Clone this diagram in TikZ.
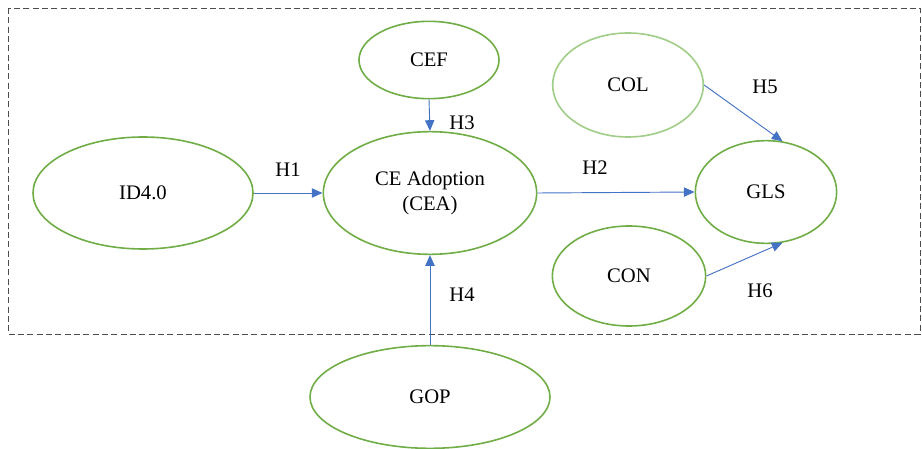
\documentclass[tikz,border=0pt]{standalone}
\usepackage{fontspec}
\setmainfont{Liberation Serif}
\usetikzlibrary{shapes.geometric, arrows.meta, positioning}
\definecolor{ovalgreen}{RGB}{112,173,71}
\definecolor{palegreen}{RGB}{160,205,135}
\definecolor{linkblue}{RGB}{68,114,196}
\tikzset{
  construct/.style={
    ellipse, draw=ovalgreen, line width=1.2pt, inner sep=0pt, align=center, font=\fontsize{15.5}{19}\selectfont
  },
  paleconstruct/.style={construct, draw=palegreen},
  hyparrow/.style={-{Triangle[length=8pt,width=7pt]}, color=linkblue, line width=0.7pt},
  hyplabel/.style={font=\fontsize{15.5}{19}\selectfont, text=black}
}
\begin{document}
\begin{tikzpicture}[x=0.75pt, y=-0.75pt]
  \useasboundingbox (0,0) rectangle (922,449);
  % dashed frame
  \draw[black!70, line width=0.6pt, dash pattern=on 4.5pt off 2.5pt] (8,8) rectangle (920,334);

  \node[construct, minimum width=165pt, minimum height=84pt] (id) at (143,193) {ID4.0};
  \node[construct, minimum width=160pt, minimum height=92pt] (cea) at (430,193) {CE Adoption\\(CEA)};
  \node[construct, minimum width=105pt, minimum height=58pt] (cef) at (429,60) {CEF};
  \node[construct, minimum width=180pt, minimum height=77pt] (gop) at (430,397) {GOP};
  \node[paleconstruct, minimum width=113pt, minimum height=78pt] (col) at (628,85) {COL};
  \node[construct, minimum width=115pt, minimum height=75pt] (con) at (629,276) {CON};
  \node[construct, minimum width=106pt, minimum height=77pt] (gls) at (766,192) {GLS};

  % hypotheses
  \draw[hyparrow] (id.east) -- (cea.west);
  \draw[hyparrow] (cea.east) -- (gls.west);
  \draw[hyparrow] (cef.south) -- (cea.north);
  \draw[hyparrow] (gop.north) -- (cea.south);
  \draw[hyparrow] (col.east) -- (gls.72);
  \draw[hyparrow] (con.east) -- (gls.-72);

  \node[hyplabel] (h1) at (288,170) {H1};
  \node[hyplabel] (h2) at (595,168) {H2};
  \node[hyplabel] (h3) at (462,123) {H3};
  \node[hyplabel] (h4) at (462,295) {H4};
  \node[hyplabel] (h5) at (765,87) {H5};
  \node[hyplabel] (h6) at (760,291) {H6};
\end{tikzpicture}
\end{document}
